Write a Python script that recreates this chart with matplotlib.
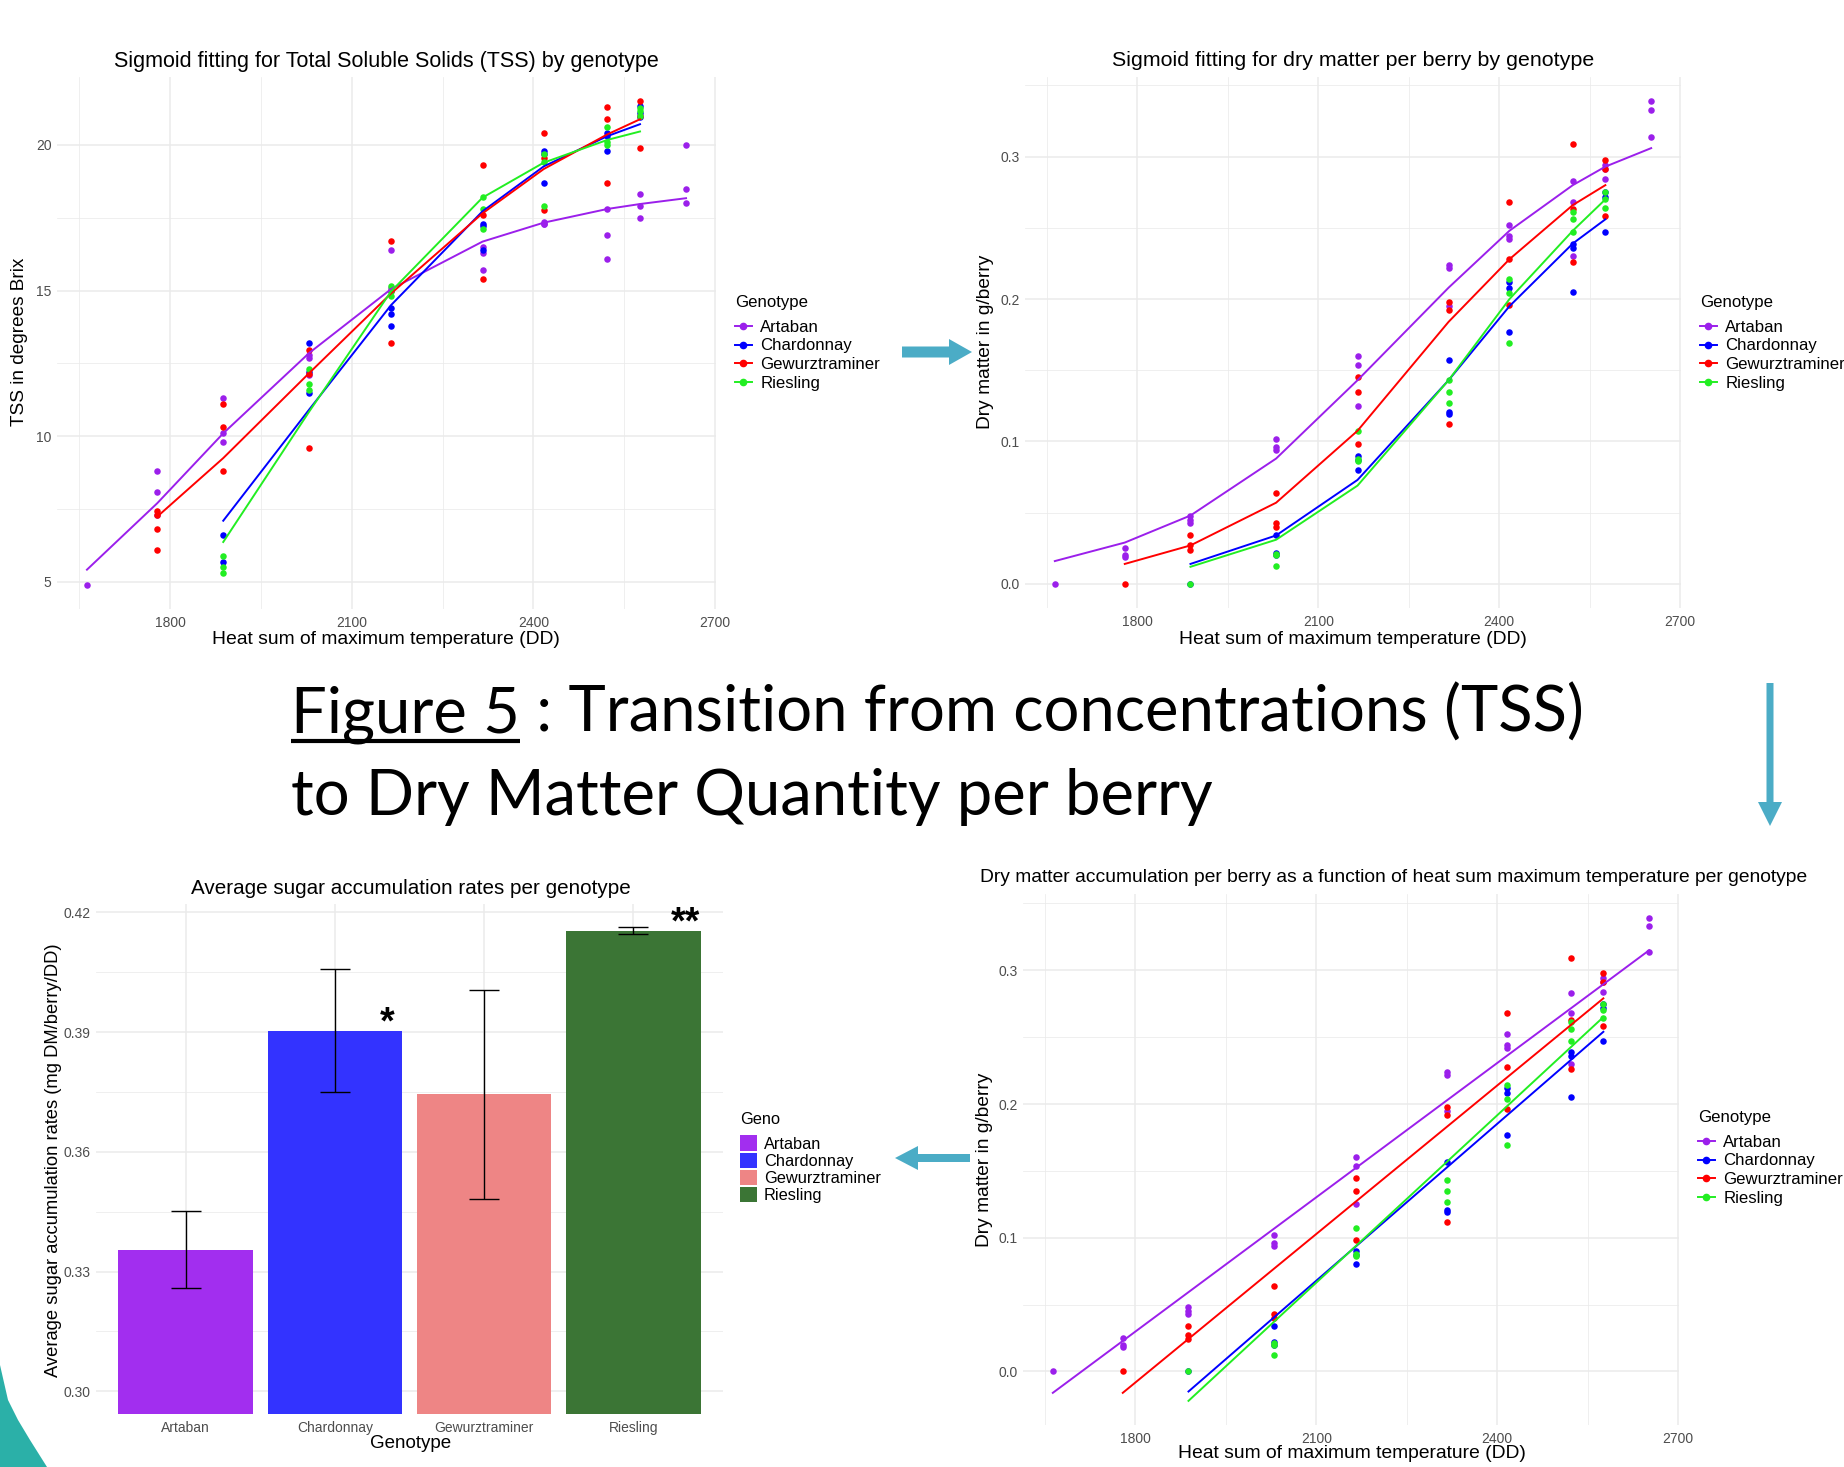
import numpy as np
import matplotlib
matplotlib.use('Agg')
import matplotlib.pyplot as plt
from matplotlib.lines import Line2D
from matplotlib.patches import Patch, FancyArrow, Polygon
from matplotlib.ticker import MultipleLocator, AutoMinorLocator, FormatStrFormatter

plt.rcParams['font.family'] = ['Liberation Sans', 'DejaVu Sans']

W, H = 1844, 1467

genotypes = ['Artaban', 'Chardonnay', 'Gewurztraminer', 'Riesling']
line_colors = ['#9B1FEB', '#0000FF', '#FF0000', '#22EE22']
bar_colors = ['#A22EEF', '#3333FF', '#EE8585', '#3B7535']

# sampling dates (heat sum, DD)
dates_art = [1663, 1779, 1888, 2030, 2165, 2316, 2417, 2522, 2576, 2652]
dates_gew = [1779, 1888, 2030, 2165, 2316, 2417, 2522, 2576]
dates_cha = [1888, 2030, 2165, 2316, 2417, 2522, 2576]
dates_rie = [1888, 2030, 2165, 2316, 2417, 2522, 2576]

# TSS (degrees Brix) replicates
tss_art = [[4.9], [8.8, 8.1, 7.3], [11.3, 10.1, 9.8], [12.8, 12.1, 12.7],
           [16.4, 15.1, 15.0], [16.5, 16.3, 15.7], [17.3, 17.3, 17.35],
           [17.8, 16.9, 16.1], [18.3, 17.9, 17.5], [20.0, 18.5, 18.0]]
tss_gew = [[7.45, 7.3, 6.8, 6.1], [11.1, 10.3, 8.8], [12.97, 12.15, 9.6],
           [16.7, 15.0, 13.2], [19.3, 17.6, 15.4], [20.4, 19.55, 17.75],
           [21.3, 20.9, 18.7], [21.5, 21.0, 19.9]]
tss_cha = [[6.6, 5.7], [13.2, 12.2, 11.5], [14.4, 14.2, 13.8], [17.3, 17.2, 16.4],
           [19.8, 19.7, 18.7], [20.4, 20.3, 19.8], [21.35, 21.1, 20.95]]
tss_rie = [[5.9, 5.5, 5.3], [12.3, 11.8, 11.6], [15.14, 15.0, 14.8], [18.2, 17.8, 17.1],
           [19.7, 19.4, 17.9], [20.6, 20.1, 20.0], [21.25, 21.15, 21.0]]

# sigmoid fit for TSS
fit_tss_art = [5.42, 7.7, 10.1, 12.86, 15.05, 16.68, 17.33, 17.8, 17.97, 18.17]
fit_tss_gew = [7.24, 9.25, 12.17, 14.9, 17.65, 19.17, 20.36, 20.88]
fit_tss_cha = [7.1, 10.92, 14.5, 17.72, 19.26, 20.3, 20.71]
fit_tss_rie = [6.37, 10.85, 14.97, 18.19, 19.39, 20.17, 20.46]

# dry matter (g/berry) replicates
dm_art = [[0.0], [0.025, 0.020, 0.0186], [0.048, 0.045, 0.043], [0.102, 0.096, 0.094],
          [0.160, 0.154, 0.125], [0.224, 0.222, 0.195], [0.252, 0.244, 0.242],
          [0.283, 0.268, 0.230], [0.294, 0.291, 0.284], [0.339, 0.333, 0.314]]
dm_gew = [[0.0], [0.034, 0.027, 0.024], [0.064, 0.043, 0.040], [0.145, 0.135, 0.098],
          [0.198, 0.192, 0.112], [0.268, 0.228, 0.196], [0.309, 0.263, 0.226],
          [0.298, 0.291, 0.258]]
dm_cha = [[0.0], [0.034, 0.022, 0.020], [0.090, 0.080, 0.087], [0.157, 0.121, 0.119],
          [0.212, 0.208, 0.177], [0.239, 0.236, 0.205], [0.275, 0.272, 0.247]]
dm_rie = [[0.0], [0.021, 0.0125, 0.020], [0.107, 0.088, 0.086], [0.143, 0.135, 0.127],
          [0.214, 0.204, 0.169], [0.261, 0.256, 0.247], [0.275, 0.270, 0.264]]

# sigmoid fit for dry matter
fit_dm_art = [0.016, 0.029, 0.048, 0.088, 0.143, 0.208, 0.248, 0.280, 0.293, 0.306]
fit_dm_gew = [0.014, 0.027, 0.057, 0.1075, 0.184, 0.228, 0.266, 0.280]
fit_dm_cha = [0.014, 0.034, 0.073, 0.143, 0.195, 0.239, 0.256]
fit_dm_rie = [0.012, 0.031, 0.069, 0.143, 0.200, 0.248, 0.270]

# linear fit end points (Artaban, Chardonnay, Gewurztraminer, Riesling)
lin_x_start = [1663, 1888, 1779, 1888]
lin_x_end = [2652, 2576, 2576, 2576]
lin_y_start = [-0.016, -0.015, -0.016, -0.022]
lin_y_end = [0.315, 0.254, 0.279, 0.265]

# average accumulation rates (mg DM/berry/DD)
rate_mean = [0.3355, 0.3904, 0.3744, 0.4154]
rate_low = [0.3259, 0.3750, 0.3482, 0.4147]
rate_high = [0.3452, 0.4059, 0.4006, 0.4164]
rate_signif = ['', '*', '', '**']

all_dates = [dates_art, dates_cha, dates_gew, dates_rie]
all_tss = [tss_art, tss_cha, tss_gew, tss_rie]
all_fit_tss = [fit_tss_art, fit_tss_cha, fit_tss_gew, fit_tss_rie]
all_dm = [dm_art, dm_cha, dm_gew, dm_rie]
all_fit_dm = [fit_dm_art, fit_dm_cha, fit_dm_gew, fit_dm_rie]


def px_rect(x0, y0, x1, y1):
    return [x0 / W, 1 - y1 / H, (x1 - x0) / W, (y1 - y0) / H]


def theme_minimal(ax, minor_x=True):
    ax.set_facecolor('none')
    for s in ax.spines.values():
        s.set_visible(False)
    if minor_x:
        ax.xaxis.set_minor_locator(AutoMinorLocator(2))
    ax.yaxis.set_minor_locator(AutoMinorLocator(2))
    ax.grid(True, which='major', color='#EBEBEB', lw=1.1)
    ax.grid(True, which='minor', color='#EBEBEB', lw=0.55)
    ax.set_axisbelow(True)
    ax.tick_params(which='both', length=0, labelsize=10, labelcolor='#4D4D4D')
    ax.tick_params(axis='x', pad=5)
    ax.tick_params(axis='y', pad=4)


def scatter_reps(ax, dates, reps, color):
    xs = np.repeat(dates, [len(r) for r in reps])
    ys = np.concatenate(reps)
    ax.scatter(xs, ys, s=22, color=color, linewidths=0, zorder=2)


fig = plt.figure(figsize=(W / 100, H / 100), dpi=100)

ov = fig.add_axes([0, 0, 1, 1], zorder=10)
ov.set_xlim(0, W)
ov.set_ylim(H, 0)
ov.axis('off')
ov.patch.set_visible(False)


def txt(x, y, s, **kw):
    kw.setdefault('ha', 'center')
    kw.setdefault('va', 'center')
    return ov.text(x, y, s, **kw)


line_handles = [Line2D([0], [0], color=c, lw=1.4, marker='o', markersize=4.5)
                for c in line_colors]


def line_legend(ax, x, y):
    leg = ax.legend(line_handles, genotypes, title='Genotype', loc='upper left',
                    bbox_to_anchor=(x / W, 1 - y / H), bbox_transform=fig.transFigure,
                    frameon=False, fontsize=12.1, title_fontsize=12.1, borderpad=0,
                    borderaxespad=0, labelspacing=0.22, handlelength=1.0,
                    handletextpad=0.5, alignment='left')
    leg._legend_box.sep = 7
    return leg


# ---- top left: TSS sigmoid ----
ax1 = fig.add_axes(px_rect(57, 77, 716, 609))
theme_minimal(ax1)
for d, reps, c in zip(all_dates, all_tss, line_colors):
    scatter_reps(ax1, d, reps, c)
for d, f, c in zip(all_dates, all_fit_tss, line_colors):
    ax1.plot(d, f, color=c, lw=1.4, zorder=3)
ax1.xaxis.set_major_locator(MultipleLocator(300))
ax1.yaxis.set_major_locator(MultipleLocator(5))
line_legend(ax1, 735, 295)
txt(386, 61, 'Sigmoid fitting for Total Soluble Solids (TSS) by genotype', fontsize=15.5)
txt(386, 639, 'Heat sum of maximum temperature (DD)', fontsize=13.9)
txt(20, 342, 'TSS in degrees Brix', fontsize=13.7, rotation=90)

# ---- top right: dry matter sigmoid ----
ax2 = fig.add_axes(px_rect(1025, 77, 1681, 608))
theme_minimal(ax2)
for d, reps, c in zip(all_dates, all_dm, line_colors):
    scatter_reps(ax2, d, reps, c)
for d, f, c in zip(all_dates, all_fit_dm, line_colors):
    ax2.plot(d, f, color=c, lw=1.4, zorder=3)
ax2.xaxis.set_major_locator(MultipleLocator(300))
ax2.yaxis.set_major_locator(MultipleLocator(0.1))
ax2.yaxis.set_major_formatter(FormatStrFormatter('%.1f'))
line_legend(ax2, 1700, 295)
txt(1353, 61, 'Sigmoid fitting for dry matter per berry by genotype', fontsize=15.4)
txt(1353, 639, 'Heat sum of maximum temperature (DD)', fontsize=13.9)
txt(985, 342, 'Dry matter in g/berry', fontsize=13.8, rotation=90)

# ---- bottom right: dry matter linear ----
ax4 = fig.add_axes(px_rect(1023, 894, 1679, 1425))
theme_minimal(ax4)
for d, reps, c in zip(all_dates, all_dm, line_colors):
    scatter_reps(ax4, d, reps, c)
for i, c in enumerate(line_colors):
    ax4.plot([lin_x_start[i], lin_x_end[i]], [lin_y_start[i], lin_y_end[i]],
             color=c, lw=1.4, zorder=3)
ax4.xaxis.set_major_locator(MultipleLocator(300))
ax4.yaxis.set_major_locator(MultipleLocator(0.1))
ax4.yaxis.set_major_formatter(FormatStrFormatter('%.1f'))
line_legend(ax4, 1698, 1110)
txt(1394, 877, 'Dry matter accumulation per berry as a function of heat sum maximum '
    'temperature per genotype', fontsize=13.9)
txt(1352, 1454, 'Heat sum of maximum temperature (DD)', fontsize=13.9)
txt(984, 1160, 'Dry matter in g/berry', fontsize=13.8, rotation=90)

# ---- bottom left: bar chart of rates ----
ax3 = fig.add_axes(px_rect(96, 904, 723, 1414))
theme_minimal(ax3, minor_x=False)
pos = np.arange(1, len(genotypes) + 1)
ax3.bar(pos, np.array(rate_mean) - 0.25, bottom=0.25, width=0.9, color=bar_colors, zorder=2)
ax3.errorbar(pos, rate_mean,
             yerr=[np.array(rate_mean) - np.array(rate_low), np.array(rate_high) - np.array(rate_mean)],
             fmt='none', ecolor='black', elinewidth=1.0, capsize=10.7, capthick=1.0, zorder=3)
for p, m, s in zip(pos, rate_mean, rate_signif):
    if s:
        ax3.text(p + 0.35, m + 0.0018, s, ha='center', va='center', fontsize=27,
                 fontweight='bold', zorder=4)
ax3.set_xlim(0.4, 4.6)
ax3.set_ylim(0.2943, 0.4221)
ax3.set_xticks(pos)
ax3.set_xticklabels(genotypes)
ax3.yaxis.set_major_locator(MultipleLocator(0.03))
ax3.yaxis.set_major_formatter(FormatStrFormatter('%.2f'))
ax3.xaxis.grid(True, which='minor', lw=0)
leg3 = ax3.legend([Patch(facecolor=c) for c in bar_colors], genotypes, title='Geno',
                  loc='upper left', bbox_to_anchor=(740 / W, 1 - 1112 / H),
                  bbox_transform=fig.transFigure, frameon=False, fontsize=11.8,
                  title_fontsize=11.8, borderpad=0, borderaxespad=0, labelspacing=0.06,
                  handlelength=1.05, handleheight=1.05, handletextpad=0.4, alignment='left')
leg3._legend_box.sep = 6
txt(411, 888, 'Average sugar accumulation rates per genotype', fontsize=14.9)
txt(411, 1443, 'Genotype', fontsize=13.5)
txt(53, 1160, 'Average sugar accumulation rates (mg DM/berry/DD)', fontsize=13.2, rotation=90)

# ---- slide caption ----
cap_font = dict(fontsize=45.6, family=['Lato', 'DejaVu Sans'], ha='left', va='baseline')
t_fig = txt(291, 732, 'Figure 5', **cap_font)
fig.canvas.draw()
bb = t_fig.get_window_extent()
inv = ov.transData.inverted()
(fx0, _), (fx1, _) = inv.transform([(bb.x0, bb.y0), (bb.x1, bb.y1)])
txt(fx1, 732, ' : Transition from concentrations (TSS)', **cap_font)
ov.plot([fx0, fx1], [741, 741], color='black', lw=3, solid_capstyle='butt')
txt(291, 815, 'to Dry Matter Quantity per berry', **cap_font)

# ---- arrows and decoration ----
arrow_col = '#4BACC6'
ov.add_patch(FancyArrow(902, 352, 70, 0, width=11, head_width=26, head_length=23,
                        length_includes_head=True, color=arrow_col, lw=0))
ov.add_patch(FancyArrow(1770, 683, 0, 143, width=7, head_width=24, head_length=24,
                        length_includes_head=True, color=arrow_col, lw=0))
ov.add_patch(FancyArrow(970, 1158, -75, 0, width=8, head_width=24, head_length=23,
                        length_includes_head=True, color=arrow_col, lw=0))
ov.add_patch(Polygon([(0, 1365), (8, 1400), (18, 1420), (30, 1440), (47, 1467), (0, 1467)],
                     closed=True, color='#2BB0A8', lw=0))

fig.savefig('out.png', dpi=100, facecolor='white')
